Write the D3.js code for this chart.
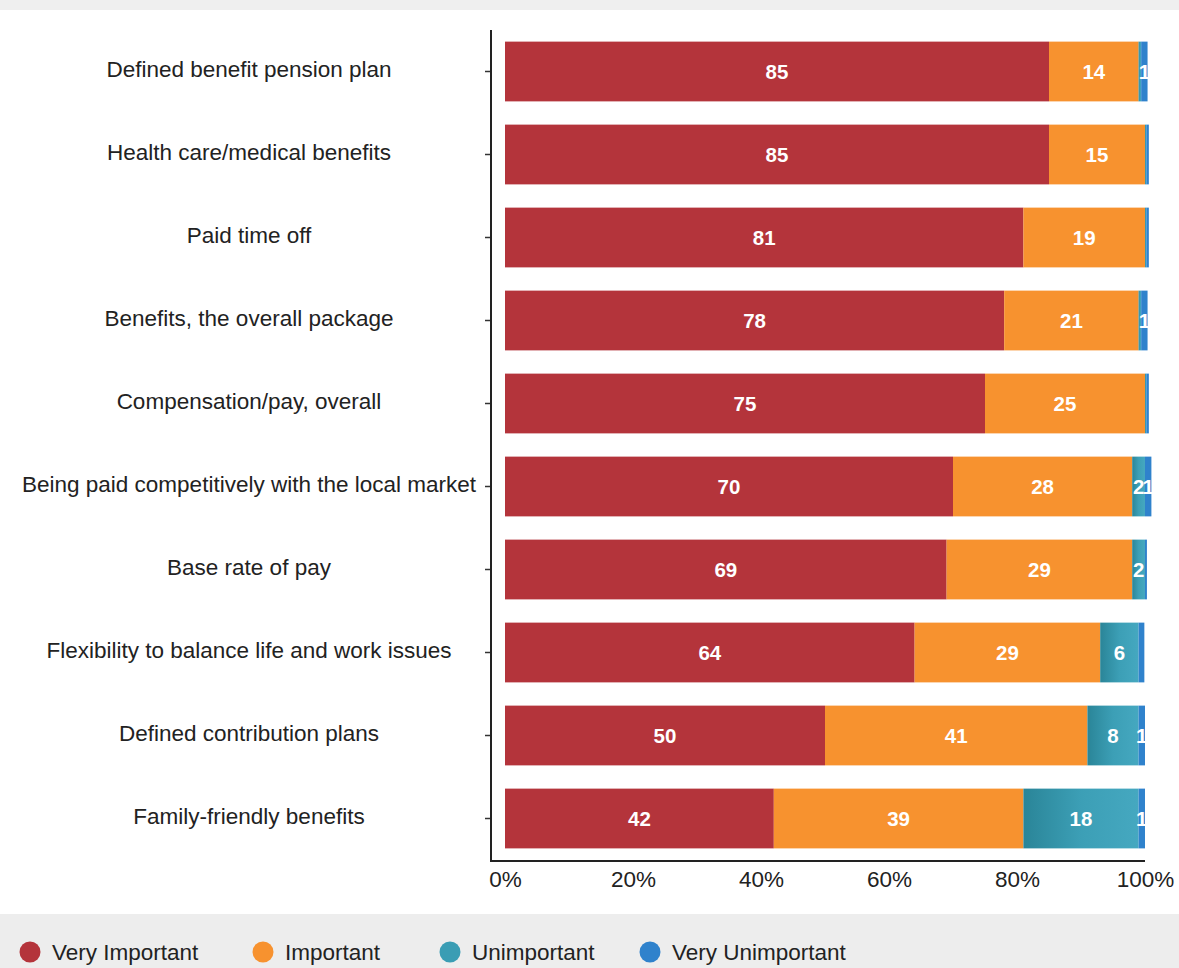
<!DOCTYPE html>
<html>
<head>
<meta charset="utf-8">
<script src="https://cdn.jsdelivr.net/npm/d3@7"></script>
<style>
  html, body { margin: 0; padding: 0; background: #ffffff; }
  svg { display: block; font-family: "Liberation Sans", Arial, sans-serif; }
</style>
</head>
<body>
<svg id="chart" width="1179" height="968"></svg>
<script>
// Survey: importance of benefit / pay items (percent of respondents)
const categories = [
  "Defined benefit pension plan",
  "Health care/medical benefits",
  "Paid time off",
  "Benefits, the overall package",
  "Compensation/pay, overall",
  "Being paid competitively with the local market",
  "Base rate of pay",
  "Flexibility to balance life and work issues",
  "Defined contribution plans",
  "Family-friendly benefits"
];
const seriesNames = ["Very Important", "Important", "Unimportant", "Very Unimportant"];
const veryImportant   = [85, 85, 81, 78, 75, 70, 69, 64, 50, 42];
const important       = [14, 15, 19, 21, 25, 28, 29, 29, 41, 39];
const unimportant     = [0.4, 0.2, 0.2, 0.4, 0.2, 2, 2, 6, 8, 18];
const veryUnimportant = [1, 0.4, 0.4, 1, 0.4, 1, 0.3, 0.9, 1, 1];
const xTicks = [0, 20, 40, 60, 80, 100];
const seriesColors = ["#b4343b", "#f7922f", "#3a9db4", "#2f82cc"];

const svg = d3.select("#chart");
const W = 1179, H = 968;

// backdrop bands at the top and behind the legend
svg.append("rect").attr("x", 0).attr("y", 0).attr("width", W).attr("height", H).attr("fill", "#ffffff");
svg.append("rect").attr("x", 0).attr("y", 0).attr("width", W).attr("height", 10).attr("fill", "#efefef");
svg.append("rect").attr("x", 0).attr("y", 914).attr("width", W).attr("height", H - 914).attr("fill", "#ededed");

const defs = svg.append("defs");
const tealGrad = defs.append("linearGradient").attr("id", "tealGrad").attr("x1", "0").attr("x2", "1");
tealGrad.append("stop").attr("offset", "0").attr("stop-color", "#2a8598");
tealGrad.append("stop").attr("offset", "0.5").attr("stop-color", "#3c9fb6");
tealGrad.append("stop").attr("offset", "1").attr("stop-color", "#45a8c0");

const x = d3.scaleLinear().domain([0, 100]).range([505, 1145]);
const y = d3.scaleBand().domain(categories).range([30, 860]).paddingInner(0.28).paddingOuter(0.14);

const rows = categories.map((c, i) => ({
  category: c,
  "Very Important": veryImportant[i],
  "Important": important[i],
  "Unimportant": unimportant[i],
  "Very Unimportant": veryUnimportant[i]
}));
const stacked = d3.stack().keys(seriesNames)(rows);

const fills = ["#b4343b", "#f7922f", "url(#tealGrad)", "#2f82cc"];

const layers = svg.append("g").selectAll("g")
  .data(stacked)
  .join("g")
  .attr("fill", (d, i) => fills[i]);

layers.selectAll("rect")
  .data(d => d)
  .join("rect")
  .attr("x", d => x(d[0]))
  .attr("y", d => y(d.data.category))
  .attr("width", d => Math.max(0, x(d[1]) - x(d[0])))
  .attr("height", y.bandwidth());

// value labels inside segments
const labels = svg.append("g")
  .attr("font-size", 20.5)
  .attr("font-weight", "bold")
  .attr("fill", "#ffffff")
  .attr("text-anchor", "middle");
stacked.forEach(layer => {
  layer.forEach(d => {
    const v = d[1] - d[0];
    if (v >= 1) {
      labels.append("text")
        .attr("x", (x(d[0]) + x(d[1])) / 2)
        .attr("y", y(d.data.category) + y.bandwidth() / 2)
        .attr("dy", "0.36em")
        .text(Math.round(v));
    }
  });
});

// y axis
const yAxisG = svg.append("g").attr("transform", "translate(491,0)")
  .call(d3.axisLeft(y).tickSize(6).tickPadding(0).tickFormat(""));
yAxisG.select(".domain").remove();
yAxisG.selectAll(".tick line").attr("stroke", "#333").attr("stroke-width", 1.5);
svg.append("line").attr("x1", 491).attr("x2", 491).attr("y1", 30).attr("y2", 861)
  .attr("stroke", "#222").attr("stroke-width", 2);

// category labels (centred in the left column)
svg.append("g").selectAll("text")
  .data(categories)
  .join("text")
  .attr("x", 249)
  .attr("y", d => y(d) + y.bandwidth() / 2 - 2)
  .attr("dy", "0.35em")
  .attr("text-anchor", "middle")
  .attr("font-size", 22.5)
  .attr("fill", "#222")
  .text(d => d);

// x axis
svg.append("line").attr("x1", 490).attr("x2", 1145).attr("y1", 861).attr("y2", 861)
  .attr("stroke", "#222").attr("stroke-width", 2);
const xAxisG = svg.append("g").attr("transform", "translate(0,861)")
  .call(d3.axisBottom(x).tickValues(xTicks).tickSize(0).tickPadding(10).tickFormat(d => d + "%"));
xAxisG.select(".domain").remove();
xAxisG.selectAll("text").attr("font-size", 22.5).attr("fill", "#222")
  .attr("font-family", "Liberation Sans, Arial, sans-serif");

// legend
const legendX = [30, 263, 450, 650];
const legend = svg.append("g");
seriesNames.forEach((name, i) => {
  legend.append("circle").attr("cx", legendX[i]).attr("cy", 952).attr("r", 10.5)
    .attr("fill", seriesColors[i]);
  legend.append("text").attr("x", legendX[i] + 22).attr("y", 952).attr("dy", "0.35em")
    .attr("font-size", 22.5).attr("fill", "#222").text(name);
});
</script>
</body>
</html>
